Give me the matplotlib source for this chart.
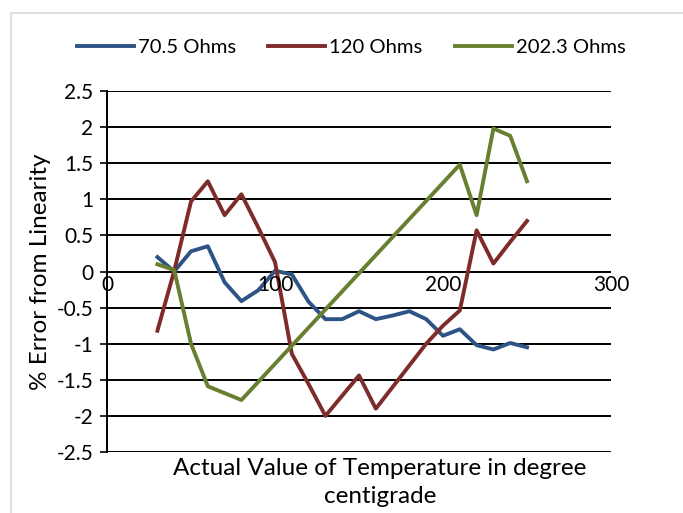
import matplotlib
matplotlib.use("Agg")
import matplotlib.pyplot as plt
from matplotlib.patches import Rectangle

plt.rcParams['font.family'] = ['Lato', 'DejaVu Sans']

# data
temp = [30, 40, 50, 60, 70, 80, 90, 100, 110, 120, 130, 140, 150, 160,
        170, 180, 190, 200, 210, 220, 230, 240, 250]
err_70 = [0.20, 0.00, 0.28, 0.35, -0.15, -0.41, -0.26, 0.01, -0.04, -0.42,
          -0.66, -0.66, -0.55, -0.66, -0.61, -0.55, -0.66, -0.89, -0.80,
          -1.02, -1.08, -0.99, -1.05]
err_120 = [-0.82, 0.01, 0.97, 1.25, 0.78, 1.07, 0.61, 0.13, -1.14, -1.56,
           -2.00, -1.72, -1.44, -1.90, -1.60, -1.30, -1.00, -0.75, -0.54,
           0.57, 0.11, 0.41, 0.70]
temp_202 = [30, 40, 50, 60, 80, 210, 220, 230, 240, 250]
err_202 = [0.10, 0.02, -1.00, -1.59, -1.78, 1.48, 0.78, 1.98, 1.88, 1.25]

labels = ['70.5 Ohms', '120 Ohms', '202.3 Ohms']
colors = ['#2E5485', '#7D2B2B', '#677F2F']

fig = plt.figure(figsize=(6.83, 5.13), dpi=100)
fig.patches.append(Rectangle((11 / 683, -0.1), 1.2, (513 - 13) / 513 + 0.1,
                             transform=fig.transFigure, fill=False,
                             edgecolor='#d9d9d9', linewidth=1.2))
ax = fig.add_axes([0.1567, 0.1189, 0.7379, 0.7037])

for yv in [-2.5, -2, -1.5, -1, -0.5, 0, 0.5, 1, 1.5, 2, 2.5]:
    ax.axhline(yv, color='black', linewidth=1.4, zorder=1)

ax.plot(temp, err_70, color=colors[0], linewidth=2.8, label=labels[0], zorder=3)
ax.plot(temp, err_120, color=colors[1], linewidth=2.8, label=labels[1], zorder=3)
ax.plot(temp_202, err_202, color=colors[2], linewidth=2.8, label=labels[2], zorder=3)

ax.set_xlim(0, 300)
ax.set_ylim(-2.5, 2.5)
for s in ['top', 'right', 'bottom']:
    ax.spines[s].set_visible(False)
ax.spines['left'].set_linewidth(1.4)
ax.spines['left'].set_color('black')

ax.set_yticks([-2.5, -2, -1.5, -1, -0.5, 0, 0.5, 1, 1.5, 2, 2.5])
ax.set_yticklabels(['-2.5', '-2', '-1.5', '-1', '-0.5', '0', '0.5', '1', '1.5', '2', '2.5'])
ax.tick_params(axis='y', labelsize=15, length=5, width=1.2, pad=5)
ax.set_xticks([])
for xv in [0, 100, 200, 300]:
    ax.text(xv, -0.05, str(xv), ha='center', va='top', fontsize=15, zorder=4)

ax.set_ylabel('% Error from Linearity', fontsize=17.5, labelpad=4)
fig.text(0.556, 0.06, 'Actual Value of Temperature in degree\ncentigrade',
         ha='center', va='center', fontsize=17.5, linespacing=1.4)

fig.legend(loc='center', bbox_to_anchor=(0.514, 0.908), ncol=3, frameon=False,
           fontsize=14.6, handlelength=2.8, handletextpad=0.2, columnspacing=1.6)

fig.savefig('out.png', dpi=100)
